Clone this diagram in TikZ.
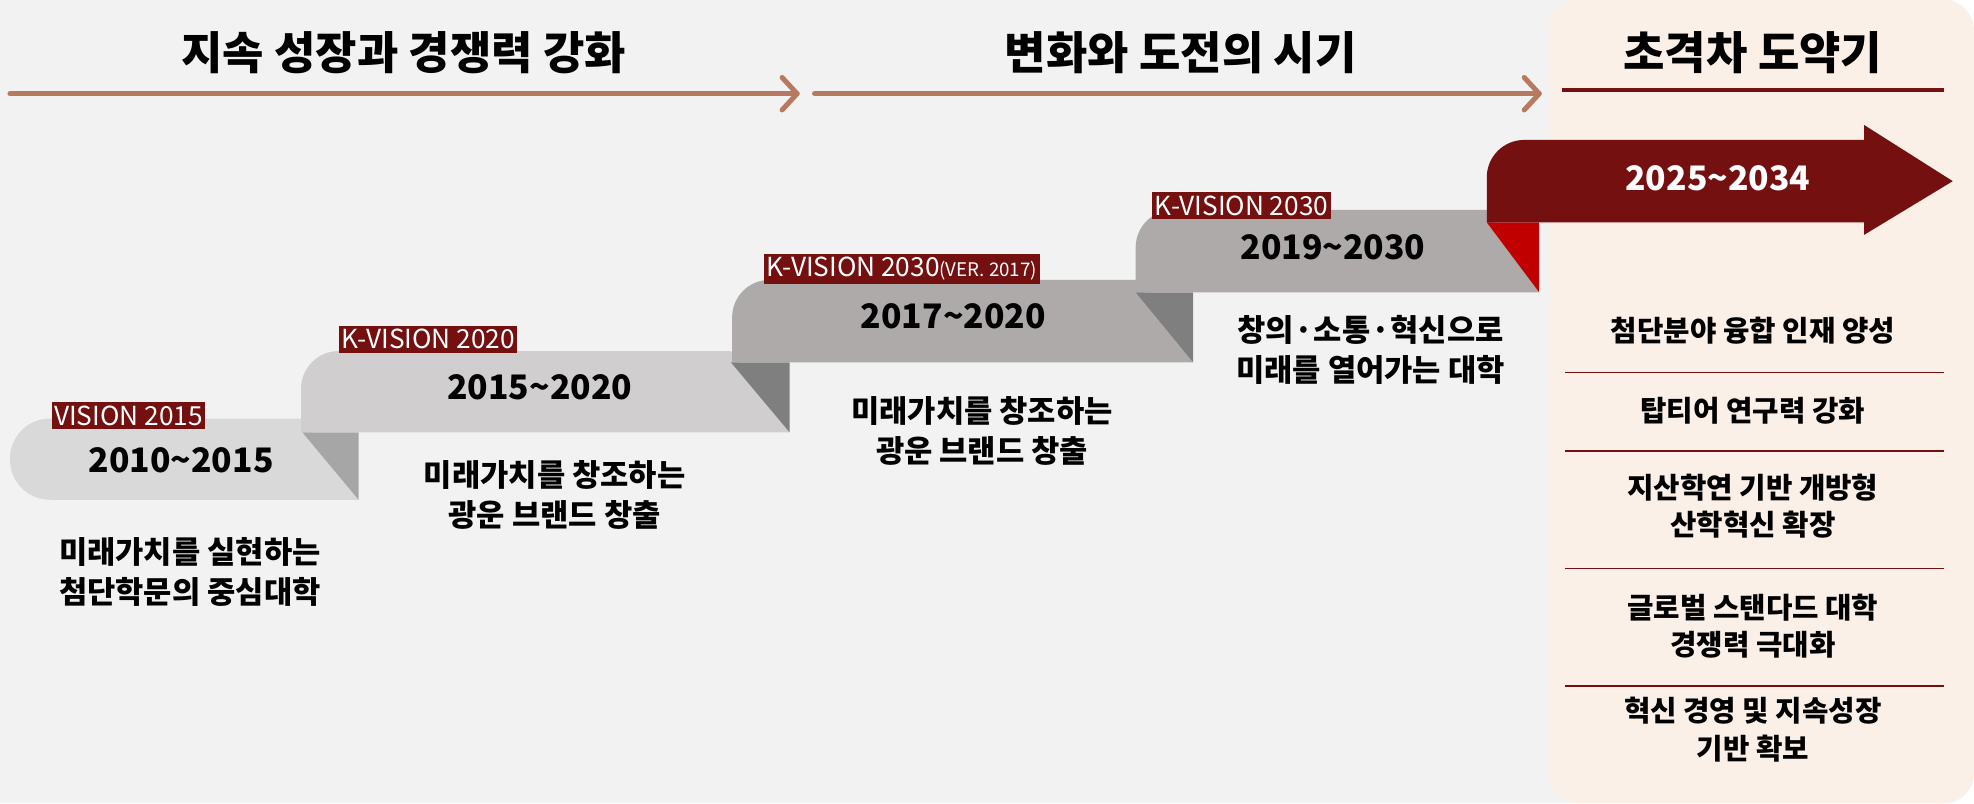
\documentclass[tikz,border=0pt]{standalone}
\usepackage{fontspec}
\setmainfont{Noto Sans CJK KR}
\newcommand{\mdt}{\hspace{0.02em}·\hspace{0.02em}}
\begin{document}
\begin{tikzpicture}[x=0.5pt,y=-0.5pt,
  lab/.style={fill={rgb,255:red,117;green,16;blue,16},text=white,inner xsep=1pt,inner ysep=1.5pt,font=\fontsize{10.5}{12}\selectfont,anchor=south west},
  yr/.style={font=\fontsize{13.5}{15}\selectfont\bfseries},
  desc/.style={font=\fontsize{12.3}{16}\selectfont\bfseries,align=center},
  ttl/.style={font=\fontsize{18}{20}\selectfont\bfseries},
  item/.style={font=\fontsize{11.5}{15}\selectfont\bfseries,align=center},
  sep/.style={draw={rgb,255:red,117;green,16;blue,16},line width=0.6pt},
  hd/.style={draw={rgb,255:red,184;green,122;blue,94},line width=2pt,line cap=round,line join=round}]
\definecolor{bgc}{RGB}{242,242,242}
\definecolor{panel}{RGB}{251,240,232}
\definecolor{dr}{RGB}{117,16,16}
\definecolor{sa}{RGB}{217,217,217}
\definecolor{sb}{RGB}{208,206,206}
\definecolor{sc}{RGB}{174,170,170}
\definecolor{tk}{RGB}{127,127,127}
\definecolor{ta}{RGB}{166,166,166}
\definecolor{rr}{RGB}{192,0,0}
\fill[bgc] (0,0) rectangle (1563,643);
\fill[panel,rounded corners=12pt] (1240,0) rectangle (1580,643);
\useasboundingbox (0,0) rectangle (1563,643);
% headers
\coordinate (h1a) at (8,75); \coordinate (h1b) at (638,75);
\coordinate (h2a) at (652,75); \coordinate (h2b) at (1232,75);
\draw[hd] (h1a) -- (h1b); \draw[hd] (626,62) -- (h1b) -- (626,88);
\draw[hd] (h2a) -- (h2b); \draw[hd] (1220,62) -- (h2b) -- (1220,88);
\node[ttl] (t1) at (323,42) {지속 성장과 경쟁력 강화};
\node[ttl] (t2) at (945,42) {변화와 도전의 시기};
\node[ttl] (t3) at (1403,42) {초격차 도약기};
\draw[dr,line width=1.5pt] (1250,72) -- (1556,72);
% step 1
\fill[sa] (287,400) [rounded corners=16pt] -- (8,400) -- (8,335) [sharp corners] -- (242,335) -- cycle;
\fill[ta] (242,346) -- (287,346) -- (287,400) -- cycle;
% step 2
\fill[sb] (632,346) -- (241,346) [rounded corners=15pt] -- (241,281) [sharp corners] -- (585,281) -- cycle;
\fill[tk] (585,290) -- (632,290) -- (632,346) -- cycle;
% step 3
\fill[sc] (955,290) -- (586,290) [rounded corners=15pt] -- (586,224) [sharp corners] -- (909,224) -- cycle;
\fill[tk] (909,234) -- (955,234) -- (955,290) -- cycle;
% step 4
\fill[sc] (1232,234) -- (909,234) [rounded corners=15pt] -- (909,168) [sharp corners] -- (1190,168) -- cycle;
\fill[rr] (1190,178) -- (1232,178) -- (1232,234) -- cycle;
% step 5
\fill[dr] (1190,178) [rounded corners=15pt] -- (1190,112) [sharp corners] -- (1492,112) -- (1492,100) -- (1563,145) -- (1492,188) -- (1492,178) -- cycle;
% labels
\node[lab] (l1) at (41,344) {VISION 2015};
\node[lab] (l2) at (271,283) {K-VISION 2020};
\node[lab] (l3) at (611,228) {K-VISION 2030{\fontsize{7.5}{9}\selectfont(VER. 2017)}};
\node[lab] (l4) at (922,176) {K-VISION 2030};
\node[yr] (y1) at (145,368) {2010\char`~2015};
\node[yr] (y2) at (432,310) {2015\char`~2020};
\node[yr] (y3) at (763,253) {2017\char`~2020};
\node[yr] (y4) at (1067,198) {2019\char`~2030};
\node[yr,text=white] (y5) at (1375,143) {2025\char`~2034};
\node[desc] (d1) at (152,458) {미래가치를 실현하는\\첨단학문의 중심대학};
\node[desc] (d2) at (444,396) {미래가치를 창조하는\\광운 브랜드 창출};
\node[desc] (d3) at (786,345) {미래가치를 창조하는\\광운 브랜드 창출};
\node[desc] (d4) at (1097,280) {창의\mdt 소통\mdt 혁신으로\\미래를 열어가는 대학};
% list
\node[item] (i1) at (1403,265) {첨단분야 융합 인재 양성};
\node[item] (i2) at (1403,329) {탑티어 연구력 강화};
\node[item] (i3) at (1403,405) {지산학연 기반 개방형\\산학혁신 확장};
\node[item] (i4) at (1403,501) {글로벌 스탠다드 대학\\경쟁력 극대화};
\node[item] (i5) at (1403,584) {혁신 경영 및 지속성장\\기반 확보};
\foreach \yy in {298,361,455,549} \draw[sep] (1253,\yy) -- (1556,\yy);
\end{tikzpicture}
\end{document}
